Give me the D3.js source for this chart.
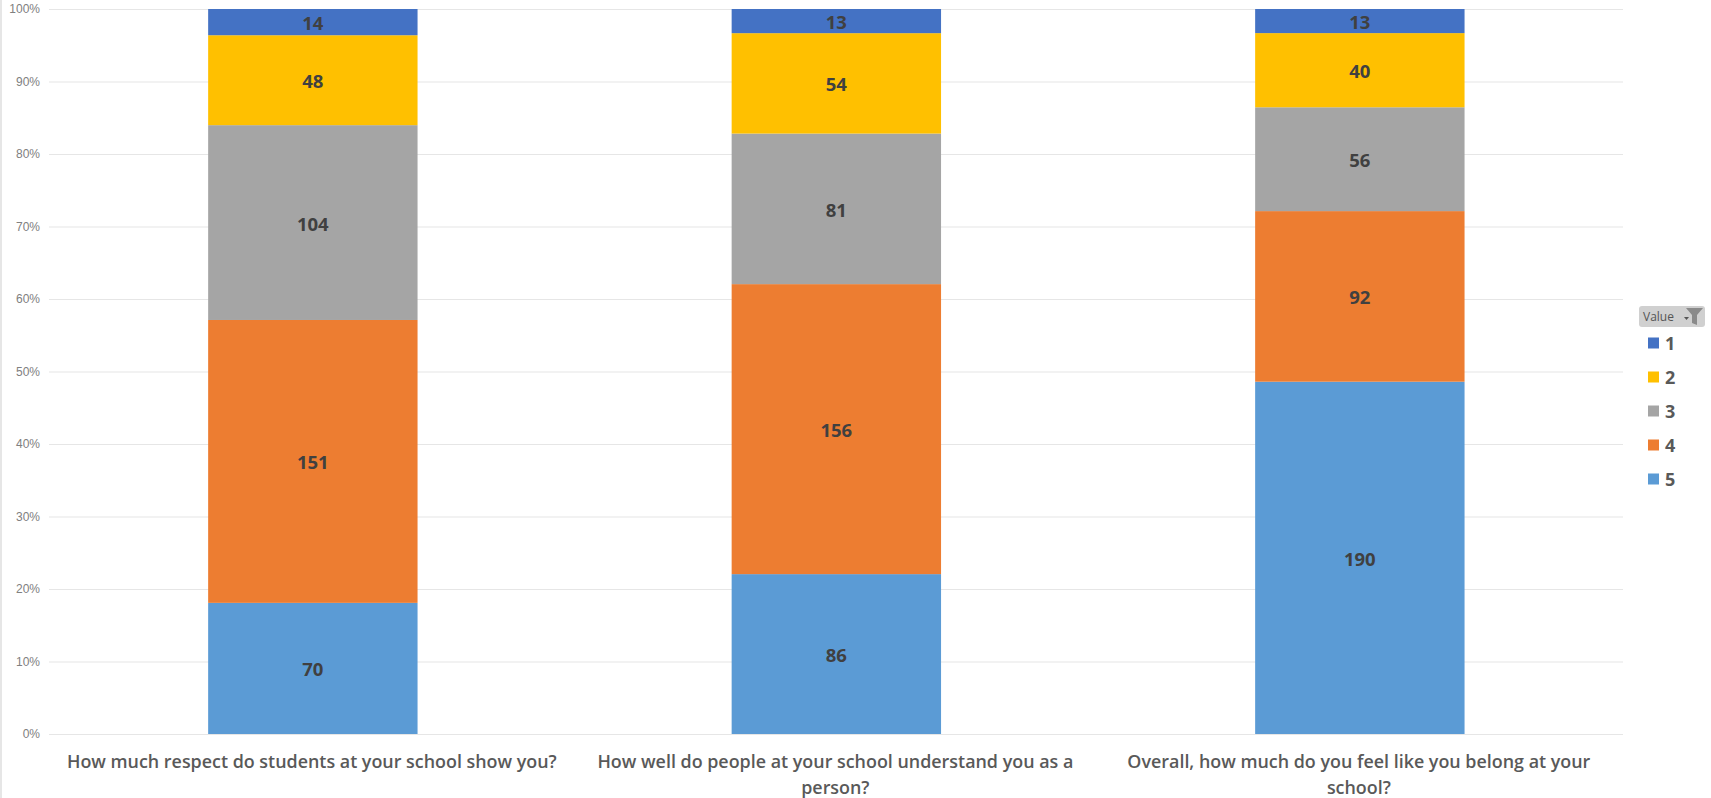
<!DOCTYPE html>
<html><head><meta charset="utf-8">
<script src="https://cdn.jsdelivr.net/npm/d3@7"></script>
<style>html,body{margin:0;padding:0;background:#fff}svg{display:block}text{font-family:"Open Sans","Noto Sans",sans-serif}</style>
</head><body><svg id="c" width="1711" height="798"></svg>
<script>
const categories=[["How much respect do students at your school show you?"],["How well do people at your school understand you as a","person?"],["Overall, how much do you feel like you belong at your","school?"]];
const seriesNames=["5","4","3","2","1"];
const legendOrder=["1","2","3","4","5"];
const s5=[70,86,190],s4=[151,156,92],s3=[104,81,56],s2=[48,54,40],s1=[14,13,13];
const seriesValues={"5":s5,"4":s4,"3":s3,"2":s2,"1":s1};
const colors={"1":"#4472c4","2":"#ffc000","3":"#a5a5a5","4":"#ed7d31","5":"#5b9bd5"};
const yTicks=[0,.1,.2,.3,.4,.5,.6,.7,.8,.9,1];
const svg=d3.select("#c");
const x=d3.scaleBand().domain(d3.range(3)).range([51.1,1621.6]).paddingInner(.6).paddingOuter(.3);
const y=d3.scaleLinear().domain([0,1]).range([734,9]);
svg.append("rect").attr("x",0).attr("y",0).attr("width",2).attr("height",798).attr("fill","#e6e6e6");
const ax=svg.append("g").attr("transform","translate(49,0)").call(d3.axisLeft(y).tickValues(yTicks).tickFormat(d3.format(".0%")).tickSize(-1574).tickPadding(9));
ax.select(".domain").remove();
ax.selectAll("line").attr("stroke","#e6e6e6").attr("stroke-width",1.2);
ax.selectAll("text").attr("fill","#808080").style("font-size","12px").style("font-family","Liberation Sans");
const rows=categories.map((c,i)=>{const o={i};seriesNames.forEach(s=>o[s]=seriesValues[s][i]);return o;});
const stacked=d3.stack().keys(seriesNames).offset(d3.stackOffsetExpand)(rows);
const g=svg.selectAll("g.s").data(stacked).join("g").attr("class","s");
g.selectAll("rect").data(d=>d.map(p=>({p,k:d.key}))).join("rect")
 .attr("x",d=>x(d.p.data.i)).attr("width",x.bandwidth())
 .attr("y",d=>y(d.p[1])).attr("height",d=>y(d.p[0])-y(d.p[1])).attr("fill",d=>colors[d.k]);
g.selectAll("text").data(d=>d.map(p=>({p,k:d.key}))).join("text")
 .attr("x",d=>x(d.p.data.i)+x.bandwidth()/2).attr("y",d=>(y(d.p[0])+y(d.p[1]))/2+8)
 .attr("text-anchor","middle").attr("fill","#404040").attr("font-weight",700).attr("font-size",18.5)
 .text(d=>d.p.data[d.k]);
categories.forEach((lines,i)=>{
 lines.forEach((t,j)=>svg.append("text").attr("x",x(i)+x.bandwidth()/2-1).attr("y",768+j*26)
  .attr("text-anchor","middle").attr("fill","#595959").attr("font-weight",600).attr("font-size",17.9).text(t));
});
// legend
const lg=svg.append("g");
lg.append("rect").attr("x",1639).attr("y",306).attr("width",66).attr("height",21).attr("rx",3).attr("fill","#d0d0d0");
lg.append("text").attr("x",1643).attr("y",321).attr("font-size",12).attr("fill","#555").text("Value");
lg.append("path").attr("d","M1684 317l5 0l-2.5 3z").attr("fill","#555");
lg.append("path").attr("d","M1686 308h17l-6 7v10l-5-2v-8z").attr("fill","#8a8a8a");
const ly=d3.scalePoint().domain(legendOrder).range([343,479]);
legendOrder.forEach(k=>{
 lg.append("rect").attr("x",1648).attr("y",ly(k)-5.5).attr("width",11).attr("height",11).attr("fill",colors[k]);
 lg.append("text").attr("x",1665).attr("y",ly(k)+7).attr("font-size",18).attr("font-weight",700).attr("fill","#595959").text(k);
});
</script></body></html>
